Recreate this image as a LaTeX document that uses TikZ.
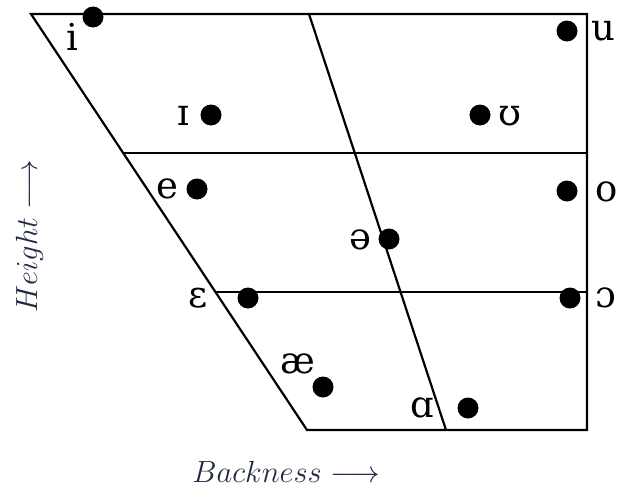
\documentclass[tikz,border=0pt]{standalone}
\usepackage{fontspec}
\newfontfamily\ipafont{DejaVu Serif}
\definecolor{axislabel}{RGB}{35,42,68}
\tikzset{
  frame/.style={line width=2.2pt, line join=miter},
  vdot/.style={circle, fill=black, inner sep=0pt, minimum size=21pt},
  vlab/.style={inner sep=0pt, font=\fontsize{37}{40}\ipafont},
  axlab/.style={inner sep=0pt, text=axislabel}
}
\newcommand{\axtext}[1]{\scalebox{1.475}{\fontsize{20}{24}\selectfont$#1\longrightarrow$}}
\begin{document}
\begin{tikzpicture}[x=1pt,y=-1pt]
\useasboundingbox (0,0) rectangle (630,490);
% corners
\coordinate (tl) at (31,14);
\coordinate (tr) at (587,14);
\coordinate (br) at (587,430);
\coordinate (bl) at (307,430);
\coordinate (mt) at (309,14);
\coordinate (mb) at (446,430);
\coordinate (h1l) at (123,153);
\coordinate (h1r) at (587,153);
\coordinate (h2l) at (215,292);
\coordinate (h2r) at (587,292);
\draw[frame] (tl) -- (tr) -- (br) -- (bl) -- cycle;
\draw[frame] (mt) -- (mb);
\draw[frame] (h1l) -- (h1r);
\draw[frame] (h2l) -- (h2r);
% dots
\node[vdot] (di) at (93,17) {};
\node[vdot] (dI) at (211,115) {};
\node[vdot] (dU) at (480,115) {};
\node[vdot] (du) at (567,31) {};
\node[vdot] (de) at (197,189) {};
\node[vdot] (do) at (567,191) {};
\node[vdot] (dschwa) at (389,239) {};
\node[vdot] (dE) at (248,298) {};
\node[vdot] (dO) at (570,298) {};
\node[vdot] (dae) at (323,387) {};
\node[vdot] (dA) at (468,408) {};
% labels
\node[vlab] (li) at (72,37) {i};
\node[vlab] (lI) at (183,116) {ɪ};
\node[vlab] (lU) at (510,116) {ʊ};
\node[vlab] (lu) at (603,31) {u};
\node[vlab] (le) at (167,189) {e};
\node[vlab] (lo) at (607,192) {o};
\node[vlab] (lschwa) at (360,240) {ə};
\node[vlab] (lE) at (198,298) {ɛ};
\node[vlab] (lO) at (606,298) {ɔ};
\node[vlab] (lae) at (298,364) {æ};
\node[vlab] (lA) at (422,408) {ɑ};
% axis labels
\node[axlab, anchor=base] (back) at (286,482) {\axtext{Backness}};
\node[axlab, anchor=base, rotate=90] (height) at (37,236) {\axtext{Height}};
\end{tikzpicture}
\end{document}
